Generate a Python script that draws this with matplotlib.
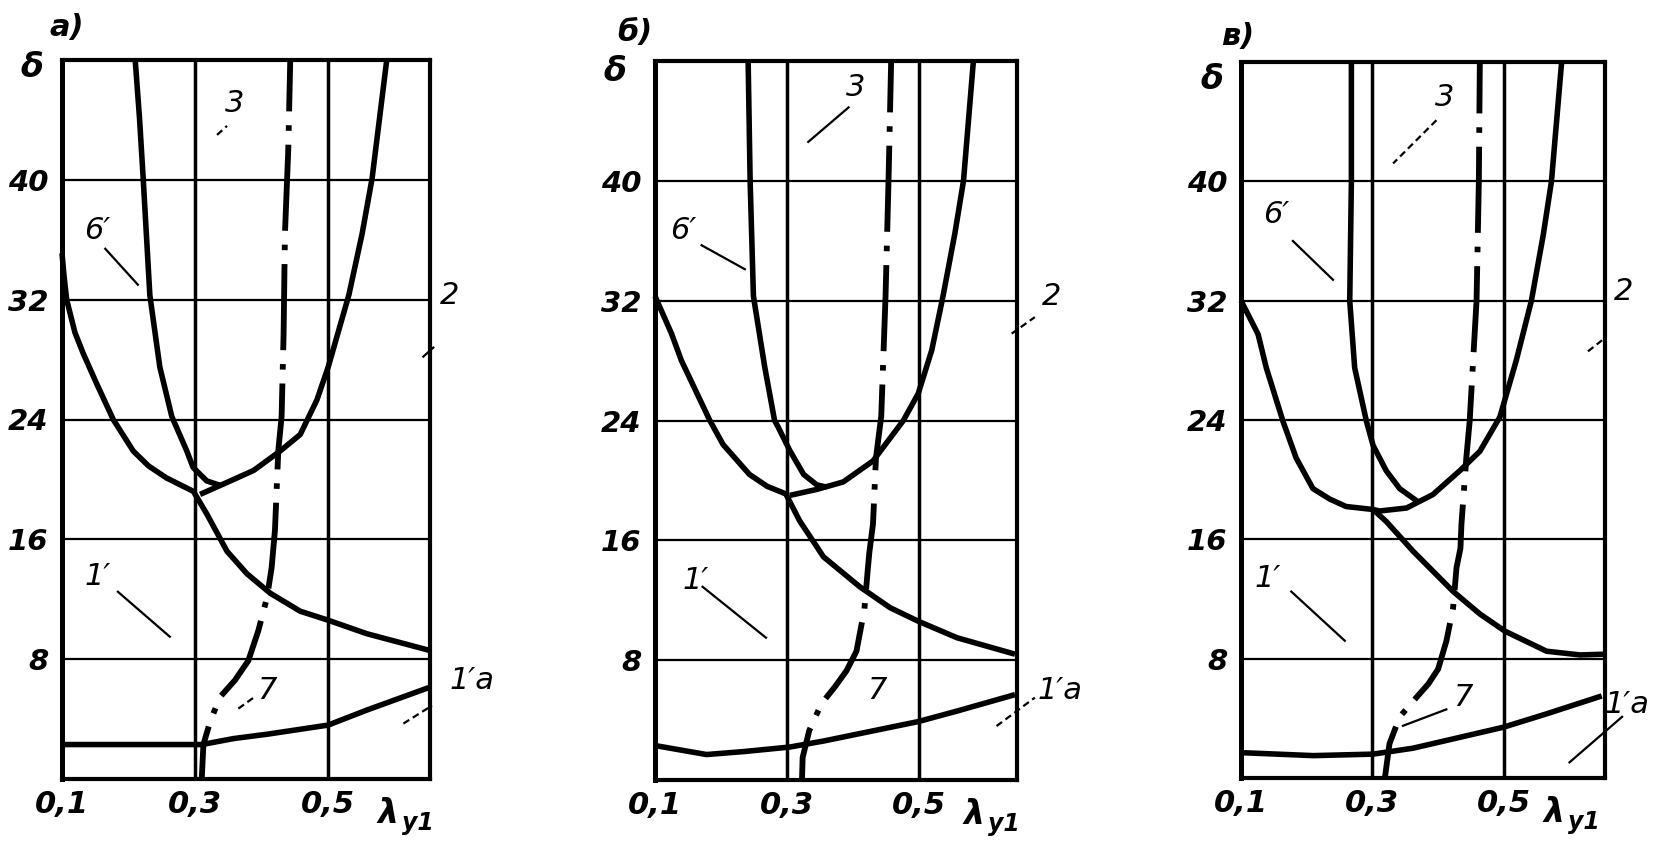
import matplotlib
matplotlib.use("Agg")
import matplotlib.pyplot as plt
from matplotlib.transforms import offset_copy

plt.rcParams['font.family'] = ['DejaVu Sans']
plt.rcParams['lines.scale_dashes'] = False

# ---------------- data ----------------
Y_TICKS = [8, 16, 24, 32, 40]
Y_TICKLABELS = ['8', '16', '24', '32', '40']
X_TICKS = [0.1, 0.3, 0.5]
X_TICKLABELS = ['0,1', '0,3', '0,5']
PANEL_NAMES = ['а)', 'б)', 'в)']
X_LABEL = 'λ'
X_LABEL_SUB = 'y1'
Y_LABEL = 'δ'

# panel а
A6_x = [0.210, 0.2165, 0.222, 0.232, 0.247, 0.265, 0.2875, 0.297, 0.3175, 0.338]
A6_y = [48.0, 44.1, 40.1, 32.3, 27.5, 24.2, 21.9, 20.8, 19.9, 19.6]
A2_x = [0.3075, 0.348, 0.388, 0.428, 0.458, 0.483, 0.500, 0.531, 0.551, 0.566, 0.588]
A2_y = [19.0, 19.8, 20.6, 21.9, 23.0, 25.3, 27.5, 32.3, 36.4, 40.1, 48.0]
A1_x = [0.100, 0.103, 0.107, 0.1195, 0.132, 0.152, 0.177, 0.207, 0.230, 0.257, 0.2975, 0.3175, 0.348, 0.378, 0.413, 0.458, 0.500, 0.558, 0.651]
A1_y = [35.1, 33.6, 32.0, 29.8, 28.4, 26.4, 24.0, 21.9, 20.9, 20.1, 19.2, 17.7, 15.2, 13.7, 12.4, 11.2, 10.6, 9.7, 8.6]
A7_x = [0.443, 0.440, 0.435, 0.433, 0.430, 0.425, 0.420, 0.415, 0.408, 0.395, 0.380, 0.360, 0.338, 0.323, 0.3125, 0.310]
A7_y = [48.0, 42.0, 36.4, 29.7, 24.2, 21.9, 16.6, 14.1, 12.1, 9.9, 7.9, 6.6, 5.5, 3.9, 2.3, 0.0]
A1a_x = [0.100, 0.200, 0.310, 0.358, 0.410, 0.500, 0.558, 0.651]
A1a_y = [2.3, 2.3, 2.3, 2.7, 3.0, 3.6, 4.6, 6.1]

# panel б
B6_x = [0.241, 0.244, 0.249, 0.266, 0.281, 0.286, 0.304, 0.325, 0.345, 0.360]
B6_y = [48.0, 40.0, 32.3, 27.6, 24.0, 23.6, 22.0, 20.4, 19.7, 19.55]
B2_x = [0.304, 0.345, 0.385, 0.430, 0.476, 0.4985, 0.519, 0.536, 0.554, 0.567, 0.582]
B2_y = [19.0, 19.4, 19.9, 21.3, 24.0, 25.8, 28.7, 32.3, 36.5, 40.0, 48.0]
B1_x = [0.100, 0.125, 0.140, 0.183, 0.203, 0.243, 0.270, 0.298, 0.319, 0.355, 0.410, 0.456, 0.4985, 0.557, 0.645]
B1_y = [32.3, 29.8, 28.0, 24.0, 22.4, 20.4, 19.6, 19.1, 17.3, 14.9, 12.9, 11.5, 10.6, 9.5, 8.4]
B7_x = [0.4575, 0.4535, 0.449, 0.4425, 0.4345, 0.430, 0.4245, 0.422, 0.417, 0.405, 0.390, 0.372, 0.352, 0.3335, 0.3235, 0.3225]
B7_y = [48.0, 40.0, 32.3, 24.3, 21.5, 17.1, 15.2, 14.0, 11.4, 8.6, 7.3, 6.2, 5.1, 3.3, 1.5, 0.0]
B1a_x = [0.100, 0.178, 0.235, 0.304, 0.355, 0.4985, 0.557, 0.645]
B1a_y = [2.3, 1.7, 1.9, 2.2, 2.6, 3.9, 4.6, 5.7]

# panel в
C6_x = [0.268, 0.268, 0.2655, 0.273, 0.291, 0.301, 0.321, 0.3415, 0.370]
C6_y = [48.0, 40.0, 32.0, 27.5, 23.9, 22.3, 20.6, 19.4, 18.5]
C2_x = [0.301, 0.311, 0.352, 0.392, 0.433, 0.4635, 0.494, 0.519, 0.542, 0.560, 0.5725, 0.588]
C2_y = [18.0, 17.9, 18.1, 19.0, 20.6, 21.9, 24.2, 28.0, 32.0, 36.4, 40.0, 48.0]
C1_x = [0.100, 0.126, 0.1385, 0.164, 0.184, 0.2095, 0.235, 0.260, 0.301, 0.321, 0.362, 0.423, 0.4635, 0.5015, 0.565, 0.616, 0.654]
C1_y = [32.0, 29.75, 27.5, 23.9, 21.45, 19.4, 18.7, 18.2, 18.0, 17.2, 15.2, 12.5, 11.0, 9.85, 8.5, 8.25, 8.3]
C7_x = [0.4635, 0.462, 0.4585, 0.448, 0.443, 0.4355, 0.434, 0.428, 0.4228, 0.4127, 0.400, 0.385, 0.367, 0.3415, 0.326, 0.319]
C7_y = [48.0, 40.0, 32.0, 23.9, 21.5, 17.0, 15.4, 14.1, 11.4, 9.2, 7.3, 6.3, 5.4, 4.1, 2.3, 0.0]
C1a_x = [0.100, 0.210, 0.301, 0.362, 0.499, 0.565, 0.649]
C1a_y = [1.7, 1.5, 1.6, 2.0, 3.4, 4.3, 5.5]

# curve labels: (text, x, y) and leader segments (x0, y0, x1, y1, dashed)
A_LABELS = [('3', 0.360, 45.1), ('6′', 0.153, 36.6), ('2', 0.683, 32.3),
            ('1′', 0.153, 13.5), ('7', 0.408, 5.9), ('1′a', 0.716, 6.6)]
A_LEADERS = [(0.333, 43.0, 0.348, 43.6, True), (0.165, 35.4, 0.214, 33.0, False),
             (0.643, 28.2, 0.658, 28.8, False), (0.184, 12.5, 0.262, 9.5, False),
             (0.365, 4.7, 0.390, 5.5, True), (0.613, 3.7, 0.656, 4.9, True)]
B_LABELS = [('3', 0.4035, 46.2), ('6′', 0.143, 36.7), ('2', 0.700, 32.3),
            ('1′', 0.161, 13.3), ('7', 0.4365, 6.0), ('1′a', 0.713, 6.0)]
B_LEADERS = [(0.393, 44.9, 0.332, 42.6, False), (0.1705, 35.7, 0.236, 34.1, False),
             (0.640, 29.8, 0.675, 30.9, True), (0.172, 12.9, 0.268, 9.5, False),
             (0.617, 3.6, 0.675, 5.5, True)]
C_LABELS = [('3', 0.410, 45.6), ('6′', 0.154, 37.8), ('2', 0.682, 32.6),
            ('1′', 0.141, 13.4), ('7', 0.438, 5.4), ('1′a', 0.687, 4.9)]
C_LEADERS = [(0.3975, 44.1, 0.3315, 41.2, True), (0.179, 36.0, 0.240, 33.4, False),
             (0.628, 28.6, 0.654, 29.5, True), (0.1765, 12.5, 0.258, 9.2, False),
             (0.3465, 3.5, 0.4125, 4.6, False), (0.600, 1.05, 0.680, 4.1, False)]

# ---------------- layout ----------------
W, H = 1654, 848
fig = plt.figure(figsize=(W / 100, H / 100), dpi=100)


def rect(l, r, t, b):
    return [l / W, 1 - b / H, (r - l) / W, (b - t) / H]


PANELS = [
    dict(rect=rect(62, 430, 60, 779), xmax=0.653,
         solid=[(A6_x, A6_y), (A2_x, A2_y), (A1_x, A1_y), (A1a_x, A1a_y)],
         dash=(A7_x, A7_y), labels=A_LABELS, leaders=A_LEADERS,
         name_pos=(0.014, 1.045), delta_pos=(-0.082, 0.99), lam_x=0.590),
    dict(rect=rect(655, 1017, 61, 780), xmax=0.648,
         solid=[(B6_x, B6_y), (B2_x, B2_y), (B1_x, B1_y), (B1a_x, B1a_y)],
         dash=(B7_x, B7_y), labels=B_LABELS, leaders=B_LEADERS,
         name_pos=(-0.055, 1.04), delta_pos=(-0.11, 0.985), lam_x=0.583),
    dict(rect=rect(1241, 1605, 62, 778), xmax=0.654,
         solid=[(C6_x, C6_y), (C2_x, C2_y), (C1_x, C1_y), (C1a_x, C1a_y)],
         dash=(C7_x, C7_y), labels=C_LABELS, leaders=C_LEADERS,
         name_pos=(-0.008, 1.035), delta_pos=(-0.08, 0.975), lam_x=0.576),
]

TXT = dict(style='italic', color='k')

for name, p in zip(PANEL_NAMES, PANELS):
    ax = fig.add_axes(p['rect'])
    ax.set_xlim(0.1, p['xmax'])
    ax.set_ylim(0, 48)
    for yv in Y_TICKS:
        ax.axhline(yv, color='k', lw=1.6, zorder=1)
    for xv in X_TICKS[1:]:
        ax.axvline(xv, color='k', lw=2.5, zorder=1)
    for s in ax.spines.values():
        s.set_linewidth(3.0)
        s.set_zorder(3)
    ax.spines['left'].set_linewidth(3.6)

    ax.set_xticks(X_TICKS)
    ax.set_xticklabels(X_TICKLABELS, fontsize=22, fontweight='bold', **TXT)
    ax.set_yticks(Y_TICKS)
    ax.set_yticklabels(Y_TICKLABELS, fontsize=21, fontweight='bold', **TXT)
    ax.tick_params(length=0)
    ax.tick_params(axis='x', pad=8)
    ax.tick_params(axis='y', pad=10)

    for xs, ys in p['solid']:
        ax.plot(xs, ys, color='k', lw=4.0, solid_joinstyle='round',
                solid_capstyle='butt', zorder=4, clip_on=False)
    xs, ys = p['dash']
    ax.plot(xs, ys, color='k', lw=4.2, linestyle=(25, (62, 10, 4, 10)),
            dash_capstyle='butt', zorder=4, clip_on=False)

    for x0, y0, x1, y1, dashed in p['leaders']:
        ax.plot([x0, x1], [y0, y1], color='k', lw=1.6,
                linestyle=(0, (5, 3)) if dashed else '-', clip_on=False, zorder=5)
    for s, x, y in p['labels']:
        ax.text(x, y, s, fontsize=22, ha='center', va='center', clip_on=False, **TXT)

    ax.text(p['name_pos'][0], p['name_pos'][1], name, transform=ax.transAxes,
            fontsize=22, fontweight='bold', ha='center', va='center', **TXT)
    ax.text(p['delta_pos'][0], p['delta_pos'][1], Y_LABEL, transform=ax.transAxes,
            fontsize=24, fontweight='bold', ha='center', va='center', **TXT)
    xt = ax.get_xaxis_transform()
    ax.text(p['lam_x'], -0.048, X_LABEL, transform=xt,
            fontsize=24, fontweight='bold', ha='center', va='center', **TXT)
    ax.text(p['lam_x'], -0.048, X_LABEL_SUB,
            transform=offset_copy(xt, fig=fig, x=10, y=-7, units='points'),
            fontsize=17, fontweight='bold', ha='left', va='center', **TXT)

fig.savefig('out.png', dpi=100, facecolor='white')
